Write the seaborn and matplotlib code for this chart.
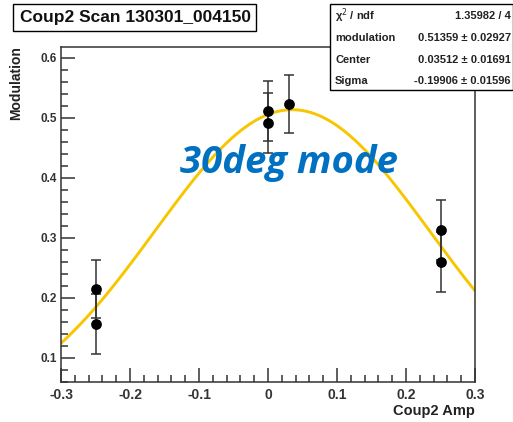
import numpy as np
import pandas as pd
import matplotlib
matplotlib.use("Agg")
import matplotlib.pyplot as plt
import seaborn as sns
from matplotlib.patches import Rectangle
from matplotlib.ticker import MultipleLocator

# Data
x_vals = [-0.25, -0.25, 0.0, 0.0, 0.03, 0.25, 0.25]
y_vals = [0.215, 0.157, 0.512, 0.492, 0.523, 0.313, 0.260]
y_err = [0.049, 0.050, 0.050, 0.050, 0.049, 0.050, 0.050]

# Fit parameters (from stats box)
fit_mod = 0.51359
fit_center = 0.03512
fit_sigma = -0.19906
stat_labels = ["χ$^{2}$ / ndf", "modulation", "Center", "Sigma"]
stat_values = ["1.35982 / 4", "0.51359 ± 0.02927", "0.03512 ± 0.01691", "-0.19906 ± 0.01596"]

title = "Coup2 Scan 130301_004150"
annotation = "30deg mode"
x_label = "Coup2 Amp"
y_label = "Modulation"

sns.set_style("white")
plt.rcParams['font.family'] = ['Liberation Sans', 'DejaVu Sans']

W, H = 513, 422
fig = plt.figure(figsize=(W / 100, H / 100), dpi=100)
ax = fig.add_axes([61 / W, 1 - 382 / H, (475 - 61) / W, (382 - 47) / H])

df = pd.DataFrame({"x": x_vals, "y": y_vals, "err": y_err})

# fit curve
xc = np.linspace(-0.3, 0.3, 400)
yc = fit_mod * np.exp(-(xc - fit_center) ** 2 / (2 * fit_sigma ** 2))
sns.lineplot(x=xc, y=yc, ax=ax, color="#F7C600", linewidth=2.1, zorder=2)

ax.errorbar(df["x"], df["y"], yerr=df["err"], fmt="none", ecolor="#333333",
            elinewidth=1.1, capsize=3.5, capthick=1.1, zorder=3)
sns.scatterplot(data=df, x="x", y="y", ax=ax, color="black", s=60,
                edgecolor="black", linewidth=0, zorder=4)

ax.set_xlim(-0.3, 0.3)
ax.set_ylim(0.06, 0.618)
ax.xaxis.set_major_locator(MultipleLocator(0.1))
ax.xaxis.set_minor_locator(MultipleLocator(0.02))
ax.yaxis.set_major_locator(MultipleLocator(0.1))
ax.yaxis.set_minor_locator(MultipleLocator(0.02))
ax.tick_params(which="both", direction="in", bottom=True, left=True, top=False, right=False,
               color="#333333", width=1.1)
ax.tick_params(which="major", length=10)
ax.tick_params(which="minor", length=5)
ax.tick_params(axis="x", which="major", labelsize=10, pad=4)
ax.tick_params(axis="y", which="major", labelsize=8.5, pad=3)
ax.set_xticks(ax.get_xticks())
ax.set_xticklabels([f"{v:g}" for v in ax.get_xticks()])
ax.set_yticks(ax.get_yticks())
ax.set_yticklabels([f"{v:g}" for v in ax.get_yticks()])
ax.set_xlim(-0.3, 0.3)
ax.set_ylim(0.06, 0.618)
for lab in ax.get_xticklabels() + ax.get_yticklabels():
    lab.set_fontweight("bold")
    lab.set_color("#333333")
for s in ax.spines.values():
    s.set_color("#333333")
    s.set_linewidth(1.1)

ax.set_xlabel("")
ax.set_ylabel("")
fig.text(475 / W, 1 - 411 / H, x_label, ha="right", va="center", fontsize=10.5,
         fontweight="bold", color="#222222")
fig.text(16 / W, 1 - 46 / H, y_label, ha="center", va="top", rotation=90, fontsize=10,
         fontweight="bold", color="#222222")

ax.text(0.03, 0.408, annotation, ha="center", va="baseline", fontsize=27.5, fontweight="bold",
        style="italic", color="#0070C0", family=["Open Sans", "DejaVu Sans"], zorder=5)

# title box
fig.patches.append(Rectangle((13 / W, 1 - 31 / H), (256 - 13) / W, 27 / H,
                             transform=fig.transFigure, facecolor="white",
                             edgecolor="black", linewidth=1.0))
fig.text(135 / W, 1 - 17.5 / H, title, ha="center", va="center", fontsize=12.5,
         fontweight="bold", color="#111111")

# stats box
fig.patches.append(Rectangle((330 / W, 1 - 90 / H), (513 - 330) / W, 86 / H,
                             transform=fig.transFigure, facecolor="white",
                             edgecolor="black", linewidth=1.0, zorder=10))
rows_y = [16, 38, 60, 81]
for lab, val, yy in zip(stat_labels, stat_values, rows_y):
    fig.text(335 / W, 1 - yy / H, lab, ha="left", va="center", fontsize=8,
             fontweight="bold", color="#222222", zorder=11)
    fig.text(511 / W, 1 - yy / H, val, ha="right", va="center", fontsize=8,
             fontweight="bold", color="#222222", zorder=11)

fig.savefig("out.png", dpi=100)
